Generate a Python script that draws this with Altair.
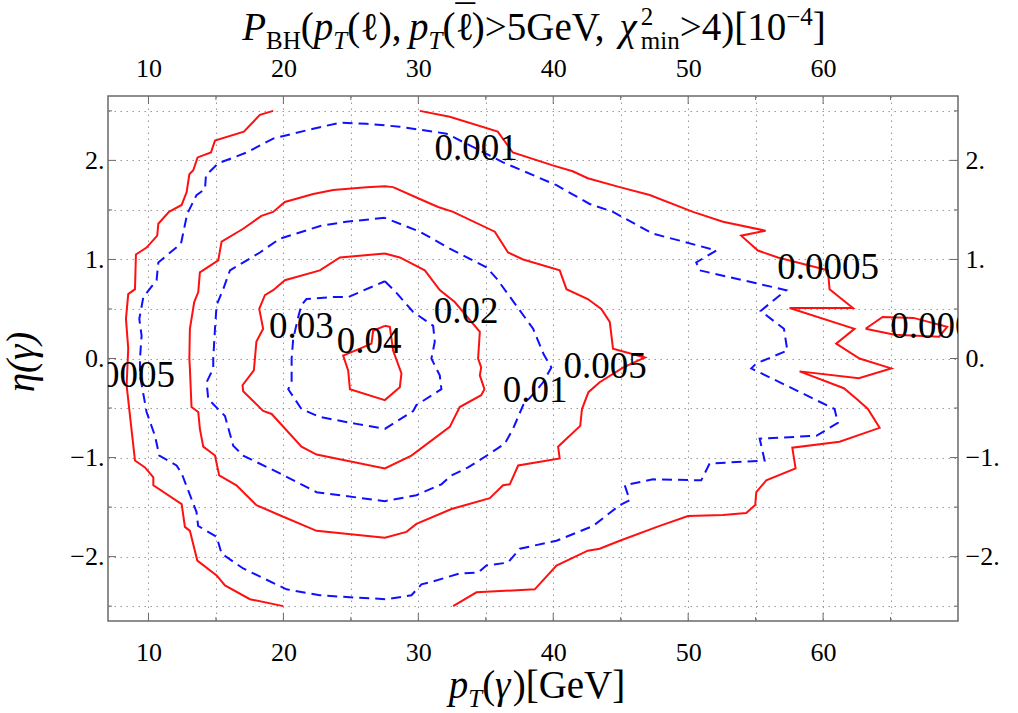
import altair as alt
import pandas as pd

# ---------------- contour data (pT [GeV], eta) ----------------
# red solid 0.0005, left part (open, runs off the top/bottom of the data range)
r0005a_pt = [19.24, 18.26, 17.07, 14.93, 14.63, 13.64, 13.32, 13.03, 12.83, 12.46, 11.52, 10.73, 10.65,
             9.86, 9.07, 9.0, 8.5, 8.33, 8.5, 8.38, 8.68, 9.0, 9.74, 10.36, 10.36, 12.46, 12.70, 13.07,
             13.62, 15.05, 15.67, 17.52, 19.99]
r0005a_eta = [2.5, 2.46, 2.29, 2.20, 2.08, 2.03, 1.90, 1.86, 1.68, 1.55, 1.48, 1.36, 1.24, 1.12, 1.05,
              0.70, 0.65, 0.40, 0.10, -0.27, -0.64, -1.03, -1.10, -1.20, -1.28, -1.47, -1.70, -1.74,
              -2.04, -2.19, -2.29, -2.43, -2.5]
# red solid 0.0005, right part
r0005b_pt = [30.11, 32.33, 35.89, 37.0, 39.96, 41.44, 42.56, 44.93, 47.15, 50.36, 52.58, 55.74, 53.93,
             55.17, 56.65, 60.36, 60.48, 62.21, 57.52, 62.33, 60.97, 62.7, 65.05, 62.65, 58.26, 61.54,
             62.58, 63.32, 64.19, 61.22, 57.72, 57.96, 55.79, 55.05, 54.97, 54.3, 52.58, 49.99, 47.89,
             44.93, 43.44, 42.56, 40.24, 38.63, 34.31, 32.58]
r0005b_eta = [2.5, 2.44, 2.29, 2.08, 1.95, 1.89, 1.82, 1.73, 1.65, 1.48, 1.38, 1.29, 1.24, 1.09, 1.02,
              0.89, 0.70, 0.51, 0.51, 0.30, 0.15, 0.0, -0.10, -0.20, -0.13, -0.30, -0.42, -0.51, -0.70,
              -0.84, -0.90, -1.11, -1.23, -1.35, -1.48, -1.56, -1.58, -1.59, -1.69, -1.84, -1.92, -1.94,
              -2.09, -2.33, -2.36, -2.5]
# red solid 0.0005, small island at the right edge
r0005c_pt = [63.15, 64.41, 66.7, 69.2, 68.6, 65.3, 63.15]
r0005c_eta = [0.30, 0.42, 0.41, 0.32, 0.22, 0.24, 0.30]
# blue dashed 0.001
b001_pt = [49.37, 47.39, 44.43, 42.7, 40.24, 36.28, 34.56, 32.09, 28.63, 26.16, 24.19, 22.21, 19.24,
           17.27, 15.17, 14.26, 14.19, 13.56, 12.87, 12.41, 10.73, 10.6, 9.62, 9.32, 9.49, 9.37, 9.37,
           9.86, 10.48, 10.8, 12.08, 12.46, 13.56, 13.68, 15.05, 15.42, 17.02, 20.23, 22.7, 24.93,
           27.64, 29.49, 30.23, 30.85, 33.07, 34.43, 35.05, 36.65, 37.52, 40.24, 42.96, 44.93, 45.67,
           45.3, 47.39, 50.97, 51.59, 55.67, 55.3, 59.5, 61.1, 60.85, 54.68, 55.05, 57.35, 57.1, 55.37,
           57.27, 50.85, 50.6, 52.09, 49.37]
b001_eta = [1.19, 1.26, 1.48, 1.56, 1.75, 1.98, 2.10, 2.27, 2.34, 2.37, 2.38, 2.32, 2.22, 2.08, 1.97,
            1.85, 1.71, 1.65, 1.46, 1.16, 0.97, 0.79, 0.62, 0.40, 0.23, 0.0, -0.17, -0.54, -0.78,
            -0.98, -1.08, -1.16, -1.55, -1.69, -1.80, -1.97, -2.12, -2.33, -2.39, -2.41, -2.43, -2.39,
            -2.28, -2.26, -2.17, -2.16, -2.09, -2.06, -1.92, -1.84, -1.69, -1.48, -1.43, -1.28, -1.22,
            -1.23, -1.06, -1.03, -0.81, -0.78, -0.65, -0.51, -0.10, -0.05, 0.08, 0.30, 0.48, 0.69,
            0.89, 0.97, 1.09, 1.19]
# red solid 0.005
r005_pt = [28.13, 27.52, 26.16, 23.69, 22.21, 20.11, 19.24, 18.37, 17.02, 15.42, 15.17, 13.81, 13.69,
           13.39, 13.07, 13.03, 13.07, 13.19, 13.69, 13.81, 14.06, 14.93, 15.24, 16.52, 18.0, 19.86,
           22.46, 27.52, 29.12, 29.86, 32.46, 35.3, 36.28, 36.78, 37.4, 40.48, 40.36, 40.98, 42.0,
           42.13, 42.61, 43.44, 45.2, 46.8, 44.43, 44.19, 43.56, 42.56, 40.98, 40.48, 37.77, 36.65,
           35.67, 32.58, 31.47, 30.11, 28.13]
r005_eta = [1.73, 1.74, 1.73, 1.70, 1.66, 1.58, 1.48, 1.44, 1.31, 1.18, 0.99, 0.87, 0.67, 0.57, 0.30,
            0.0, -0.1, -0.49, -0.54, -0.71, -0.89, -0.98, -1.18, -1.28, -1.48, -1.59, -1.74, -1.81,
            -1.75, -1.67, -1.52, -1.41, -1.28, -1.27, -1.08, -1.01, -0.89, -0.81, -0.68, -0.51, -0.34,
            -0.24, -0.09, 0.01, 0.10, 0.37, 0.50, 0.60, 0.70, 0.89, 1.0, 1.07, 1.28, 1.48, 1.53, 1.61,
            1.73]
# blue dashed 0.01
b01_pt = [27.52, 24.64, 22.79, 19.74, 18.26, 16.04, 15.54, 15.05, 14.93, 14.8, 14.8, 14.31, 14.43,
          15.67, 16.28, 17.02, 19.74, 22.46, 27.52, 29.86, 31.71, 32.46, 33.69, 35.3, 36.41, 37.02,
          37.77, 38.51, 39.25, 39.86, 39.3, 38.51, 35.79, 35.05, 32.33, 30.11, 27.52]
b01_eta = [1.42, 1.38, 1.34, 1.21, 1.07, 0.89, 0.70, 0.54, 0.30, 0.0, -0.1, -0.24, -0.41, -0.58,
           -0.88, -0.98, -1.16, -1.35, -1.44, -1.38, -1.27, -1.18, -1.10, -0.96, -0.86, -0.71, -0.47,
           -0.36, -0.24, -0.09, 0.04, 0.30, 0.81, 0.92, 1.11, 1.28, 1.42]
# red solid 0.02
r02_pt = [27.52, 24.19, 22.7, 20.11, 19.24, 18.63, 18.21, 18.5, 18.0, 17.89, 17.81, 16.97, 17.02, 18.5,
          19.13, 21.34, 22.46, 27.52, 29.49, 32.33, 33.07, 34.66, 34.9, 34.56, 34.66, 34.43, 34.56,
          32.7, 31.59, 30.48, 28.63, 27.52]
r02_eta = [1.06, 1.02, 0.89, 0.79, 0.69, 0.64, 0.50, 0.30, 0.17, 0.0, -0.12, -0.27, -0.33, -0.53,
           -0.56, -0.89, -0.97, -1.11, -0.98, -0.69, -0.49, -0.37, -0.31, -0.17, -0.09, 0.0, 0.27,
           0.57, 0.69, 0.89, 1.02, 1.06]
# blue dashed 0.03
b03_pt = [27.52, 28.4, 29.62, 31.1, 31.22, 30.97, 31.59, 31.71, 29.86, 29.62, 27.52, 25.41, 22.7,
          21.34, 20.36, 20.61, 20.61, 20.73, 21.1, 21.34, 21.71, 23.69, 24.8, 27.52]
b03_eta = [0.78, 0.66, 0.47, 0.33, 0.17, 0.0, -0.17, -0.31, -0.47, -0.53, -0.71, -0.66, -0.59, -0.51,
           -0.31, -0.24, 0.0, 0.20, 0.42, 0.54, 0.60, 0.62, 0.62, 0.78]
# red solid 0.04
r04_pt = [27.52, 27.89, 28.13, 28.75, 28.63, 27.52, 24.93, 24.8, 24.43, 25.67, 26.53, 26.65, 27.52]
r04_eta = [0.33, 0.32, 0.08, -0.15, -0.29, -0.42, -0.31, -0.12, 0.03, 0.10, 0.15, 0.28, 0.33]

# contour labels
lab_text = ["0.001", "0.0005", "0.0005", "0.005", "0.01", "0.02", "0.03", "0.04", "0.0005"]
lab_pt = [34.28, 60.37, 8.19, 43.84, 38.65, 33.54, 21.34, 26.35, 68.75]
lab_eta = [2.115, 0.914, -0.18, -0.086, -0.328, 0.469, 0.323, 0.167, 0.32]

# axis ticks
x_grid_vals = [10, 15, 20, 25, 30, 35, 40, 45, 50, 55, 60, 65]
x_major = [10, 20, 30, 40, 50, 60]
x_minor = [15, 25, 35, 45, 55, 65]
y_grid_vals = [-2.5, -2.0, -1.5, -1.0, -0.5, 0.0, 0.5, 1.0, 1.5, 2.0, 2.5]
y_major = [-2, -1, 0, 1, 2]
y_minor = [-2.5, -1.5, -0.5, 0.5, 1.5, 2.5]

# ---------------- build tables ----------------
red_sets = {"r0005a": (r0005a_pt, r0005a_eta), "r0005b": (r0005b_pt, r0005b_eta),
            "r0005c": (r0005c_pt, r0005c_eta), "r005": (r005_pt, r005_eta),
            "r02": (r02_pt, r02_eta), "r04": (r04_pt, r04_eta)}
blue_sets = {"b001": (b001_pt, b001_eta), "b01": (b01_pt, b01_eta), "b03": (b03_pt, b03_eta)}


def to_df(sets):
    rows = []
    for name, (xs, ys) in sets.items():
        for i, (a, b) in enumerate(zip(xs, ys)):
            rows.append({"seg": name, "i": i, "pt": a, "eta": b})
    return pd.DataFrame(rows)


df_red = to_df(red_sets)
df_blue = to_df(blue_sets)
df_lab = pd.DataFrame({"t": lab_text, "pt": lab_pt, "eta": lab_eta})

W, H = 850, 525
PADL, PADT = 108, 96
FONT = "Liberation Serif"
FRAME = "#6a6a6a"

xscale = alt.Scale(domain=[7, 70], nice=False, zero=False)
yscale = alt.Scale(domain=[-2.65, 2.65], nice=False, zero=False)

lab_common = dict(labelFont=FONT, labelFontSize=26, labelColor="black", labelOverlap=False,
                  labelFlush=False, labelBound=False, ticks=False, tickSize=0, domain=False, title=None)

x_bottom = alt.X("pt:Q", scale=xscale, axis=alt.Axis(
    orient="bottom", values=x_grid_vals,
    labelExpr="datum.value % 10 == 0 ? '' + datum.value : ''",
    grid=True, gridColor="#9a9a9a", gridDash=[1.5, 4.5], gridWidth=1, labelPadding=18, **lab_common))
y_left = alt.Y("eta:Q", scale=yscale, axis=alt.Axis(
    orient="left", values=y_grid_vals,
    labelExpr="datum.value % 1 == 0 ? ((datum.value < 0 ? '\u2212' : '') + abs(datum.value) + '.') : ''",
    grid=True, gridColor="#9a9a9a", gridDash=[1.5, 4.5], gridWidth=1, labelPadding=4, **lab_common))
x_top = alt.X("pt:Q", scale=xscale, axis=alt.Axis(
    orient="top", values=x_major, grid=False, labelPadding=15, **lab_common))
y_right = alt.Y("eta:Q", scale=yscale, axis=alt.Axis(
    orient="right", values=y_major, grid=False, labelPadding=7,
    labelExpr="(datum.value < 0 ? '\u2212' : '') + abs(datum.value) + '.'", **lab_common))

red = alt.Chart(df_red).mark_line(color="#ff1010", strokeWidth=2, clip=True).encode(
    x=x_bottom, y=y_left, detail="seg:N", order="i:Q")
blue = alt.Chart(df_blue).mark_line(color="#1010ff", strokeWidth=2, strokeDash=[10, 6], clip=True).encode(
    x=x_top, y=y_right, detail="seg:N", order="i:Q")

labels = alt.Chart(df_lab).mark_text(font=FONT, fontSize=37, color="black", align="center",
                                     baseline="middle", clip=True).encode(
    x=alt.X("pt:Q", scale=xscale, axis=None), y=alt.Y("eta:Q", scale=yscale, axis=None), text="t:N")

# inward frame ticks
dxM = pd.DataFrame({"v": x_major})
dxm = pd.DataFrame({"v": x_minor})
dyM = pd.DataFrame({"v": y_major})
dym = pd.DataFrame({"v": y_minor})
tick_layers = []
for d, ln in ((dxM, 8), (dxm, 4)):
    tick_layers.append(alt.Chart(d).mark_rule(color=FRAME, strokeWidth=1).encode(
        x=alt.X("v:Q", scale=xscale, axis=None), y=alt.value(H), y2=alt.value(H - ln)))
    tick_layers.append(alt.Chart(d).mark_rule(color=FRAME, strokeWidth=1).encode(
        x=alt.X("v:Q", scale=xscale, axis=None), y=alt.value(0), y2=alt.value(ln)))
for d, ln in ((dyM, 8), (dym, 4)):
    tick_layers.append(alt.Chart(d).mark_rule(color=FRAME, strokeWidth=1).encode(
        y=alt.Y("v:Q", scale=yscale, axis=None), x=alt.value(0), x2=alt.value(ln)))
    tick_layers.append(alt.Chart(d).mark_rule(color=FRAME, strokeWidth=1).encode(
        y=alt.Y("v:Q", scale=yscale, axis=None), x=alt.value(W), x2=alt.value(W - ln)))

# ---------------- titles built from text pieces ----------------
REG = {' ': 0.25, '(': 0.333, ')': 0.333, ',': 0.25, '.': 0.25, '>': 0.564, 'G': 0.722, 'e': 0.444,
       'V': 0.722, '[': 0.333, ']': 0.333, 'B': 0.667, 'H': 0.722, 'm': 0.778, 'i': 0.278, 'n': 0.5,
       '\u2212': 0.564, '\u2113': 0.42, '\u00af': 0.333}
ITA = {'P': 0.611, 'p': 0.5, 'T': 0.556, '\u03c7': 0.55, '\u03b3': 0.45, '\u03b7': 0.5}
dummy = pd.DataFrame({"d": [0]})


def twidth(s, size, italic):
    tot = 0.0
    for c in s:
        if c.isdigit():
            tot += 0.5
        elif italic and c in ITA:
            tot += ITA[c]
        else:
            tot += REG.get(c, 0.5)
    return tot * size


def piece(txt, px, py, size, italic, angle=0, align="left"):
    kw = dict(text=txt, font=FONT, fontSize=size, fontStyle="italic" if italic else "normal",
              align=align, baseline="alphabetic", color="black")
    if angle:
        kw["angle"] = angle
    return alt.Chart(dummy).mark_text(**kw).encode(x=alt.value(px - PADL), y=alt.value(py - PADT))


def layout(pieces, cx, base):
    advs = []
    for p in pieces:
        txt, size, it, dy = p[:4]
        adv = p[4] if len(p) > 4 else twidth(txt, size, it)
        advs.append(adv)
    x = cx - sum(advs) / 2
    out = []
    for p, a in zip(pieces, advs):
        txt, size, it, dy = p[:4]
        out.append(piece(txt, x, base + dy, size, it))
        x += a
    return out


F, f = 39, 25
title_pieces = [
    ("P", F, True, 0), ("BH", f, False, 9), ("(", F, False, 0), ("p", F, True, 0), ("T", f, True, 9),
    ("(\u2113), ", F, False, 0), ("p", F, True, 0), ("T", f, True, 9),
    ("(", F, False, 0), ("\u00af", F, False, -7, 0.0), ("\u2113", F, False, 0),
    (")>5GeV, ", F, False, 0), ("\u03c7", F, True, 0),
    ("2", f, False, -15, 0.0), ("min", f, False, 9),
    (">4)[10", F, False, 0), ("\u22124", f, False, -15), ("]", F, False, 0),
]
xtitle_pieces = [("p", F, True, 0), ("T", f, True, 9), ("(", F, False, 0), ("\u03b3", F, True, 0),
                 (")[GeV]", F, False, 0)]

text_layers = layout(title_pieces, 534, 40) + layout(xtitle_pieces, 537, 698)
text_layers.append(piece("\u03b7(\u03b3)", 34, 362, F, True, angle=270, align="center"))

chart = alt.layer(red, blue, labels, *tick_layers, *text_layers).resolve_axis(
    x="independent", y="independent"
).properties(
    width=W, height=H,
    autosize=alt.AutoSizeParams(type="none"),
    padding={"left": PADL, "top": PADT, "right": 1018 - PADL - W, "bottom": 713 - PADT - H},
    background="white",
).configure_view(stroke=FRAME, strokeWidth=1.5)

chart.save("out.html", embed_options={"renderer": "svg", "actions": False})
